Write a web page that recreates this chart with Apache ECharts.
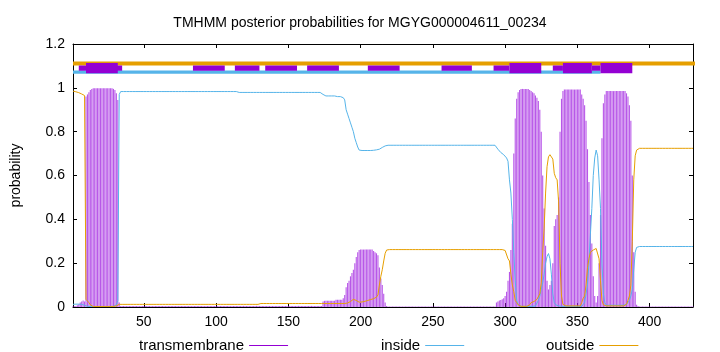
<!DOCTYPE html>
<html>
<head>
<meta charset="utf-8">
<script src="https://cdn.jsdelivr.net/npm/echarts@6/dist/echarts.min.js"></script>
<style>html,body{margin:0;padding:0;background:#fff;}#c{width:720px;height:352px;}</style>
</head>
<body>
<div id="c"></div>
<script>
// ---- data (run-length: number = one residue, [value, count] = repeated value) ----
const titleText = 'TMHMM posterior probabilities for MGYG000004611_00234';
const seqLength = 430;
const xTickLabels = [50, 100, 150, 200, 250, 300, 350, 400];

const tmRuns = [
  [0.003,2],0.005,0.008,0.012,0.02,0.025,0.03,0.025,0.96,0.97,0.98,0.99,0.995,
  [0.998,14],0.995,0.99,0.975,0.944,0.02,
  [0.004,82],[0.005,58],0.025,[0.028,8],[0.033,5],
  0.04,0.055,0.09,0.11,0.12,0.14,0.155,0.17,0.20,0.228,0.25,0.26,
  [0.262,9],0.255,0.25,0.245,0.236,0.18,0.13,0.1,0.06,0.02,0.005,
  [0.002,75],
  0.02,0.025,0.03,0.032,0.035,0.04,0.05,0.07,0.12,0.16,0.26,0.38,0.70,0.86,0.95,0.98,0.99,
  [0.995,6],0.99,0.985,0.98,0.975,
  0.965,0.955,0.94,0.9,0.8,0.6,0.45,0.28,0.12,0.08,0.1,0.12,0.2,0.37,0.4,0.42,0.5,
  0.8,0.95,0.985,[0.992,12],0.97,
  0.95,0.92,0.85,0.72,0.57,0.42,0.29,0.14,0.05,0.02,0.05,0.2,0.42,0.77,0.93,0.97,
  [0.985,14],0.975,0.96,0.92,0.85,0.6,0.25,0.07,0.01,0.005,
  [0.002,38]
];
const insideRuns = [
  [0.012,2],[0.013,4],0.012,0.01,0.008,0.005,0.003,[0.002,17],0.003,0.005,0.01,0.03,0.97,
  [0.983,82],[0.979,58],0.97,[0.963,8],[0.96,5],0.955,
  0.945,0.90,0.88,0.86,0.84,0.82,0.80,0.77,0.75,0.73,0.716,
  [0.714,9],0.715,0.716,0.717,0.718,0.72,0.725,0.728,0.732,0.735,0.737,
  [0.738,75],
  0.735,0.72,0.712,0.705,0.70,0.695,0.69,0.68,0.665,0.58,0.52,0.40,0.25,0.12,0.03,0.01,0.005,
  [0.003,10],
  0.005,0.01,0.03,0.05,0.08,0.11,0.15,0.2,0.23,0.244,0.22,0.15,0.06,0.02,0.01,0.005,0.005,
  [0.003,16],
  0.005,0.02,0.06,0.1,0.2,0.33,0.45,0.6,0.68,0.716,0.69,0.58,0.45,0.2,0.06,0.02,
  [0.008,14],0.012,0.015,0.03,0.05,0.08,0.17,0.25,0.272,0.274,
  [0.276,38]
];
const outsideRuns = [
  0.985,0.984,0.982,0.98,0.978,0.976,0.972,0.968,0.965,0.035,0.028,0.02,0.01,0.005,
  [0.002,14],0.002,0.003,0.005,0.01,0.012,
  [0.012,97],[0.016,60],
  0.018,0.02,0.025,0.03,0.035,0.038,0.03,0.023,0.022,
  0.022,0.023,0.024,0.026,0.028,0.03,0.032,0.034,0.036,
  0.038,0.04,0.045,0.055,0.1,0.14,0.17,0.21,0.245,0.26,
  [0.262,80],
  0.26,0.258,0.255,0.22,0.21,0.15,0.10,0.07,0.03,0.02,0.01,0.005,
  [0.003,6],0.01,0.02,0.022,0.025,
  0.03,0.035,0.04,0.06,0.11,0.25,0.36,0.52,0.64,0.685,0.695,0.697,0.675,0.61,0.59,0.58,0.48,
  0.2,0.05,0.012,[0.005,12],0.02,
  0.04,0.05,0.1,0.18,0.22,0.25,0.255,0.26,0.265,0.267,0.26,0.22,0.12,0.03,0.01,0.005,
  [0.005,14],0.012,0.03,0.05,0.1,0.3,0.58,0.69,0.716,0.72,
  [0.724,38]
];

// predicted topology strip above the curves: [start, end] residue ranges
const outsideStrip = [[1, 450]];
const insideStrip = [[1, 366]];
const tmStripThin = [[5,35],[84,106],[113,130],[134,156],[163,185],[205,227],[256,277],[292,303],[333,340],[360,366]];
const tmStripThick = [[10,32],[303,325],[340,360],[366,388]];
const stripLevels = { outside: 1.111, tm: 1.09, inside: 1.0715 };

// ---- build ----
function expand(runs) {
  const out = [];
  runs.forEach(r => {
    if (Array.isArray(r)) { for (let i = 0; i < r[1]; i++) out.push(r[0]); }
    else out.push(r);
  });
  return out.map((v, i) => [i + 1, v]);
}
const tmData = expand(tmRuns);
const inData = expand(insideRuns);
const outData = expand(outsideRuns);

const C_TM = '#9400d3', C_IN = '#56b4e9', C_OUT = '#e69f00';
const FONT = 'Liberation Sans, Arial, sans-serif';

function stripSeries(segs, level, color, width, z) {
  return segs.map(s => ({
    type: 'line', data: [[s[0], level], [s[1], level]], symbol: 'none',
    lineStyle: { color: color, width: width, cap: 'butt' }, clip: false,
    silent: true, z: z, animation: false, legendHoverLink: false
  }));
}

const axisCommon = {
  type: 'value', min: 1, max: seqLength,
  axisLine: { show: true, onZero: false, lineStyle: { color: '#000', width: 1 } },
  splitLine: { show: false }
};

const chart = echarts.init(document.getElementById('c'), null, { renderer: 'canvas' });
chart.setOption({
  animation: false,
  backgroundColor: '#fff',
  title: {
    text: titleText, left: 'center', top: 11,
    textStyle: { fontFamily: FONT, fontSize: 14, fontWeight: 'normal', color: '#000' }
  },
  grid: { left: 73, right: 27, top: 44, bottom: 45, containLabel: false },
  legend: [
    { data: [{ name: 'transmembrane', icon: 'rect', itemStyle: { color: C_TM } }], left: 134, top: 333 },
    { data: [{ name: 'inside', icon: 'rect', itemStyle: { color: C_IN } }], left: 376, top: 333 },
    { data: [{ name: 'outside', icon: 'rect', itemStyle: { color: C_OUT } }], left: 541, top: 333 }
  ].map(l => Object.assign(l, {
    align: 'right', itemWidth: 39, itemHeight: 1.2, selectedMode: false,
    textStyle: { fontFamily: FONT, fontSize: 15, color: '#000' }
  })),
  xAxis: [
    Object.assign({}, axisCommon, {
      position: 'bottom',
      axisTick: { show: true, inside: true, length: 4, customValues: xTickLabels, lineStyle: { color: '#000' } },
      axisLabel: { show: true, customValues: xTickLabels, margin: 8, fontFamily: FONT, fontSize: 14, color: '#000' }
    }),
    Object.assign({}, axisCommon, {
      position: 'top',
      axisTick: { show: true, inside: true, length: 4, customValues: xTickLabels, lineStyle: { color: '#000' } },
      axisLabel: { show: false }
    })
  ],
  yAxis: [
    {
      type: 'value', min: 0, max: 1.2, interval: 0.2, position: 'left',
      name: 'probability', nameLocation: 'middle', nameRotate: 90, nameGap: 50,
      nameTextStyle: { fontFamily: FONT, fontSize: 14, color: '#000' },
      axisLine: { show: true, lineStyle: { color: '#000', width: 1 } },
      axisTick: { show: true, inside: true, length: 4, lineStyle: { color: '#000' } },
      axisLabel: { margin: 8, fontFamily: FONT, fontSize: 14, color: '#000' },
      splitLine: { show: false }
    },
    {
      type: 'value', min: 0, max: 1.2, interval: 0.2, position: 'right',
      axisLine: { show: true, lineStyle: { color: '#000', width: 1 } },
      axisTick: { show: true, inside: true, length: 4, lineStyle: { color: '#000' } },
      axisLabel: { show: false },
      splitLine: { show: false }
    }
  ],
  series: [
    {
      name: 'transmembrane', type: 'bar', data: tmData, barWidth: 1.1,
      itemStyle: { color: 'rgba(160,32,224,0.75)' }, z: 2, large: false
    },
    {
      name: 'inside', type: 'line', data: inData, symbol: 'none',
      lineStyle: { color: C_IN, width: 1 }, itemStyle: { color: C_IN }, z: 3
    },
    {
      name: 'outside', type: 'line', data: outData, symbol: 'none',
      lineStyle: { color: C_OUT, width: 1 }, itemStyle: { color: C_OUT }, z: 4
    }
  ].concat(
    stripSeries(outsideStrip, stripLevels.outside, C_OUT, 4, 5),
    stripSeries(insideStrip, stripLevels.inside, C_IN, 3.3, 5),
    stripSeries(tmStripThin, stripLevels.tm, C_TM, 5.3, 6),
    stripSeries(tmStripThick, stripLevels.tm, C_TM, 10.3, 7)
  )
});
</script>
</body>
</html>
